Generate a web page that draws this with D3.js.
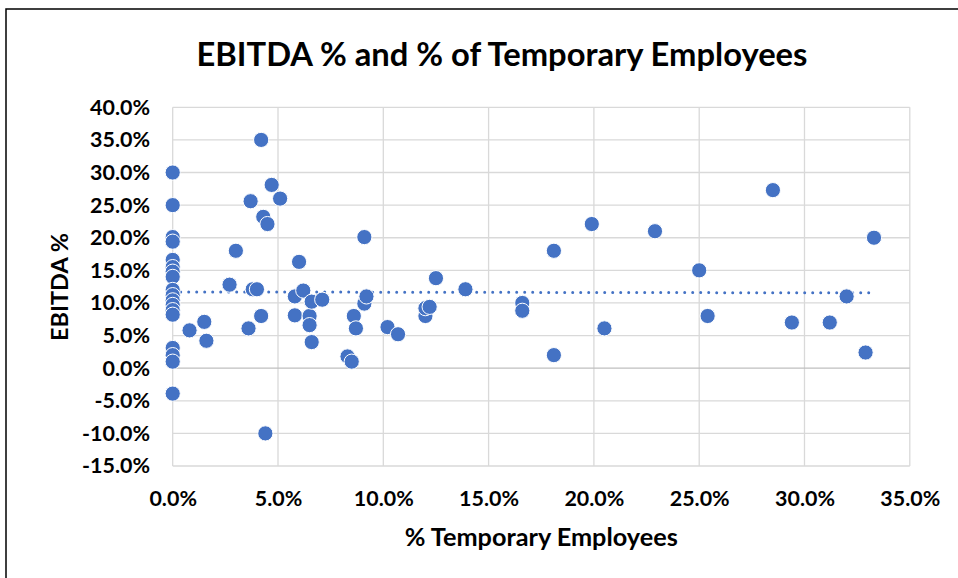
<!DOCTYPE html>
<html>
<head>
<meta charset="utf-8">
<script src="https://cdn.jsdelivr.net/npm/d3@7"></script>
<style>
  body { margin: 0; background: #fff; }
  text { font-family: Lato, "Open Sans", sans-serif; font-weight: bold; fill: #000; }
</style>
</head>
<body>
<div id="chart"></div>
<script>
// % temporary employees (x) and EBITDA % (y)
const tempPct = [
  0, 0, 0, 0, 0, 0, 0, 0, 0, 0, 0, 0, 0, 0, 0, 0, 0, 0,
  0.8, 1.5, 1.6, 2.7, 3.0, 3.6, 3.7, 3.8, 4.0, 4.2, 4.2, 4.3, 4.4, 4.5, 4.7, 5.1,
  5.8, 5.8, 6.0, 6.2, 6.5, 6.5, 6.6, 6.6, 7.1,
  8.3, 8.5, 8.6, 8.7, 9.1, 9.1, 9.2, 10.2, 10.7,
  12.0, 12.0, 12.2, 12.5, 13.9, 16.6, 16.6, 18.1, 18.1, 19.9, 20.5,
  22.9, 25.0, 25.4, 28.5, 29.4, 31.2, 32.0, 32.9, 33.3
];
const ebitdaPct = [
  30.0, 25.0, 20.1, 19.4, 16.6, 15.5, 14.8, 14.0, 12.0, 11.2, 10.4, 9.7, 8.9, 8.2, 3.1, 2.0, 1.0, -3.9,
  5.8, 7.1, 4.2, 12.8, 18.0, 6.1, 25.6, 12.1, 12.1, 35.0, 8.0, 23.2, -10.0, 22.1, 28.1, 26.0,
  11.0, 8.1, 16.3, 11.9, 8.0, 6.6, 10.2, 4.0, 10.5,
  1.8, 1.0, 8.0, 6.1, 9.9, 20.1, 11.0, 6.3, 5.2,
  8.0, 9.2, 9.4, 13.8, 12.1, 10.0, 8.8, 18.0, 2.0, 22.1, 6.1,
  21.0, 15.0, 8.0, 27.3, 7.0, 7.0, 11.0, 2.4, 20.0
];
const trendX = [0, 33.1];
const trendY = [11.7, 11.55];
const xTicks = [0, 5, 10, 15, 20, 25, 30, 35];
const yTicks = [-15, -10, -5, 0, 5, 10, 15, 20, 25, 30, 35, 40];

const title = "EBITDA % and % of Temporary Employees";
const xTitle = "% Temporary Employees";
const yTitle = "EBITDA %";

const width = 958, height = 578;
const plotLeft = 172.7, plotRight = 909.8, plotTop = 107.3, plotBottom = 466;
const blue = "#4472C4";

const svg = d3.select("#chart")
    .append("svg")
    .attr("width", width)
    .attr("height", height);

svg.append("rect").attr("width", width).attr("height", height).attr("fill", "#fff");

// chart frame (runs off the right and bottom of the window)
svg.append("path")
    .attr("d", `M6,${height + 5}V9H${width + 5}`)
    .attr("fill", "none")
    .attr("stroke", "#000")
    .attr("stroke-width", 1.5);

// font size that makes a string a given width
function fitSize(str, target) {
    const t = svg.append("text").attr("font-size", 100).text(str);
    const w = t.node().getComputedTextLength();
    t.remove();
    return 100 * target / w;
}

const x = d3.scaleLinear().domain([0, 35]).range([plotLeft, plotRight]);
const y = d3.scaleLinear().domain([-15, 40]).range([plotBottom, plotTop]);
const fmt = d => d.toFixed(1) + "%";

// gridlines
svg.append("g")
    .selectAll("line")
    .data(xTicks)
    .enter().append("line")
    .attr("x1", d => x(d)).attr("x2", d => x(d))
    .attr("y1", plotTop).attr("y2", plotBottom)
    .attr("stroke", "#d9d9d9").attr("stroke-width", 1.3);

svg.append("g")
    .selectAll("line")
    .data(yTicks)
    .enter().append("line")
    .attr("x1", plotLeft).attr("x2", plotRight)
    .attr("y1", d => y(d)).attr("y2", d => y(d))
    .attr("stroke", d => d === 0 ? "#bfbfbf" : "#d9d9d9")
    .attr("stroke-width", 1.3);

// tick labels
const tickSize = fitSize("35.0%", 60);

svg.append("g")
    .attr("transform", `translate(${plotLeft}, 0)`)
    .call(d3.axisLeft(y).tickValues(yTicks).tickFormat(fmt).tickSize(0).tickPadding(22.7))
    .call(g => g.select(".domain").remove())
    .selectAll("text")
    .attr("font-size", tickSize)
    .attr("font-family", null)
    .attr("fill", "#000");

svg.append("g")
    .attr("transform", `translate(0, ${plotBottom})`)
    .call(d3.axisBottom(x).tickValues(xTicks).tickFormat(fmt).tickSize(0).tickPadding(0))
    .call(g => g.select(".domain").remove())
    .selectAll("text")
    .attr("y", 32)
    .attr("dy", "0.35em")
    .attr("font-size", tickSize)
    .attr("font-family", null)
    .attr("fill", "#000");

// titles
svg.append("text")
    .attr("x", 502).attr("y", 66)
    .attr("text-anchor", "middle")
    .attr("font-size", fitSize(title, 611))
    .text(title);

svg.append("text")
    .attr("x", (plotLeft + plotRight) / 2).attr("y", 537)
    .attr("dy", "0.35em")
    .attr("text-anchor", "middle")
    .attr("font-size", fitSize(xTitle, 273))
    .text(xTitle);

svg.append("text")
    .attr("transform", "translate(60, 287) rotate(-90)")
    .attr("dy", "0.35em")
    .attr("text-anchor", "middle")
    .attr("font-size", fitSize(yTitle, 108))
    .text(yTitle);

// dotted trend line
svg.append("line")
    .attr("x1", x(trendX[0])).attr("y1", y(trendY[0]))
    .attr("x2", x(trendX[1])).attr("y2", y(trendY[1]))
    .attr("stroke", blue)
    .attr("stroke-width", 3)
    .attr("stroke-linecap", "round")
    .attr("stroke-dasharray", "0 8");

// points
const data = tempPct.map((d, i) => ({ x: d, y: ebitdaPct[i] }));

svg.append("g")
    .selectAll("circle")
    .data(data)
    .enter().append("circle")
    .attr("cx", d => x(d.x))
    .attr("cy", d => y(d.y))
    .attr("r", 7.6)
    .attr("fill", blue)
    .attr("stroke", "#fff")
    .attr("stroke-width", 1);
</script>
</body>
</html>
